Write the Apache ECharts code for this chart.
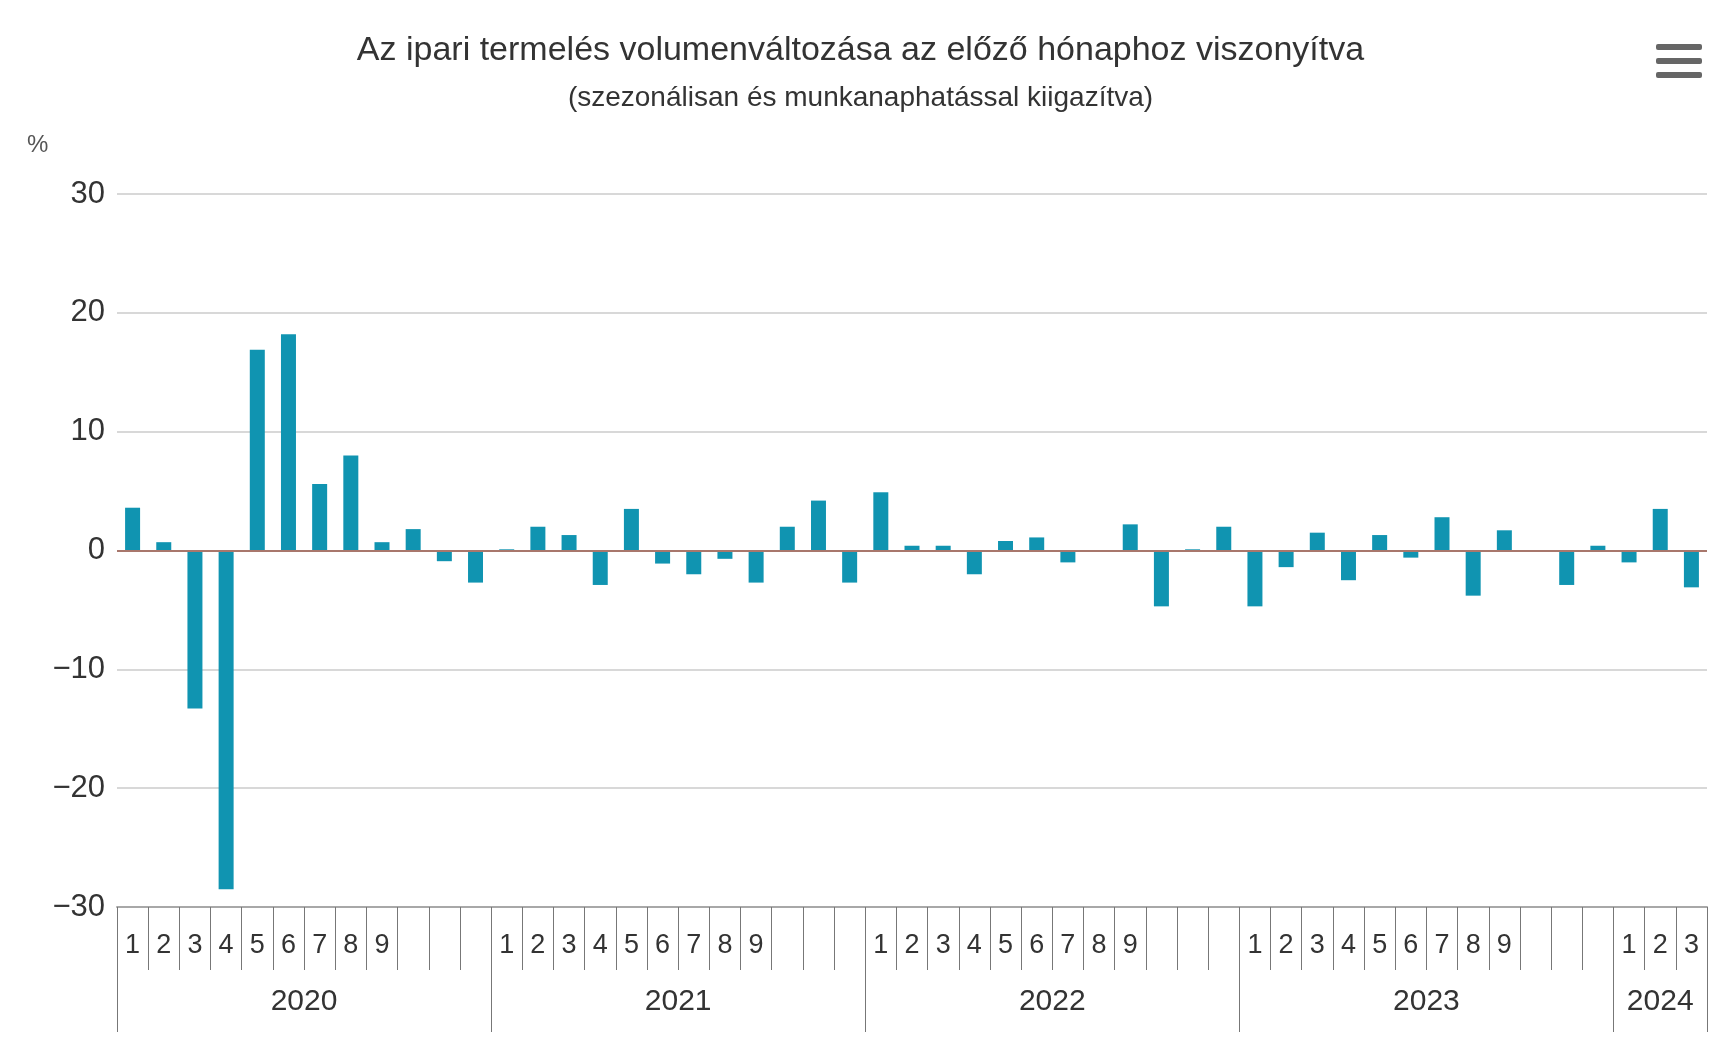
<!DOCTYPE html>
<html>
<head>
<meta charset="utf-8">
<title>Ipari termelés</title>
<script src="https://cdn.jsdelivr.net/npm/echarts@6/dist/echarts.min.js"></script>
<style>
  html, body { margin: 0; padding: 0; background: #fff; }
  #chart { width: 1721px; height: 1045px; }
</style>
</head>
<body>
<div id="chart"></div>
<script>
// havi volumenváltozás, % (előző hónaphoz)
const years = ['2020', '2021', '2022', '2023', '2024'];
const monthsPerYear = [12, 12, 12, 12, 3];
const monthNames = ['1', '2', '3', '4', '5', '6', '7', '8', '9', '', '', ''];

const v2020 = [3.6, 0.7, -13.3, -28.5, 16.9, 18.2, 5.6, 8.0, 0.7, 1.8, -0.9, -2.7];
const v2021 = [0.1, 2.0, 1.3, -2.9, 3.5, -1.1, -2.0, -0.7, -2.7, 2.0, 4.2, -2.7];
const v2022 = [4.9, 0.4, 0.4, -2.0, 0.8, 1.1, -1.0, -0.1, 2.2, -4.7, 0.1, 2.0];
const v2023 = [-4.7, -1.4, 1.5, -2.5, 1.3, -0.6, 2.8, -3.8, 1.7, 0.0, -2.9, 0.4];
const v2024 = [-1.0, 3.5, -3.1];

const yTicks = [-30, -20, -10, 0, 10, 20, 30];

const values = [...v2020, ...v2021, ...v2022, ...v2023, ...v2024];

// kategóriák: minden évből annyi hónap, amennyi van
const monthLabels = [];
monthsPerYear.forEach((n) => { for (let i = 0; i < n; i++) monthLabels.push(monthNames[i]); });

// évhatárok és évközepek a második (érték) tengelyhez
const yearBounds = [0];
monthsPerYear.forEach((n) => yearBounds.push(yearBounds[yearBounds.length - 1] + n));
const yearMids = years.map((y, i) => (yearBounds[i] + yearBounds[i + 1]) / 2);

const FONT = '"Liberation Sans", Arial, sans-serif';

const chart = echarts.init(document.getElementById('chart'));
chart.setOption({
  animation: false,
  textStyle: { fontFamily: FONT },
  title: {
    text: 'Az ipari termelés volumenváltozása az előző hónaphoz viszonyítva',
    subtext: '(szezonálisan és munkanaphatással kiigazítva)',
    left: 'center',
    top: 29,
    itemGap: 16,
    textStyle: { fontFamily: FONT, fontSize: 34, fontWeight: 'normal', color: '#333' },
    subtextStyle: { fontFamily: FONT, fontSize: 28, color: '#333' },
  },
  grid: { left: 117, right: 14, top: 194, bottom: 138, containLabel: false },
  graphic: [
    { type: 'text', left: 27, top: 133, style: { text: '%', font: '24px ' + FONT, fill: '#555' } },
    {
      type: 'group', right: 19, top: 44,
      children: [
        { type: 'rect', shape: { x: 0, y: 0, width: 46, height: 6, r: 2 }, style: { fill: '#666' } },
        { type: 'rect', shape: { x: 0, y: 14, width: 46, height: 6, r: 2 }, style: { fill: '#666' } },
        { type: 'rect', shape: { x: 0, y: 28, width: 46, height: 6, r: 2 }, style: { fill: '#666' } },
      ],
    },
  ],
  xAxis: [
    {
      type: 'category',
      data: monthLabels,
      position: 'bottom',
      axisLine: { onZero: false, lineStyle: { color: '#a8a8a8', width: 2 } },
      axisTick: { show: true, interval: 0, length: 63, lineStyle: { color: '#777', width: 1 } },
      axisLabel: { interval: 0, fontSize: 27, color: '#333', margin: 25 },
      splitLine: { show: false },
    },
    {
      type: 'value',
      min: 0,
      max: yearBounds[yearBounds.length - 1],
      position: 'bottom',
      axisLine: { show: false, onZero: false },
      axisTick: { show: true, customValues: yearBounds, length: 125, lineStyle: { color: '#777', width: 1 } },
      axisLabel: {
        customValues: yearMids,
        fontSize: 30,
        color: '#333',
        margin: 80,
        formatter: (v) => years[yearMids.indexOf(v)] || '',
      },
      splitLine: { show: false },
    },
  ],
  yAxis: {
    type: 'value',
    min: yTicks[0],
    max: yTicks[yTicks.length - 1],
    interval: 10,
    axisLine: { show: false },
    axisTick: { show: false },
    axisLabel: { fontSize: 31, color: '#333', margin: 12, formatter: (v) => String(v).replace('-', '−') },
    splitLine: { lineStyle: { color: '#d8d8d8', width: 2 } },
  },
  series: [
    {
      name: 'Volumenváltozás',
      type: 'bar',
      xAxisIndex: 0,
      data: values,
      barWidth: 15,
      itemStyle: { color: '#1094b1' },
      markLine: {
        silent: true,
        symbol: 'none',
        label: { show: false },
        lineStyle: { color: '#a8776c', width: 2, type: 'solid' },
        data: [{ yAxis: 0 }],
      },
    },
  ],
});
</script>
</body>
</html>
